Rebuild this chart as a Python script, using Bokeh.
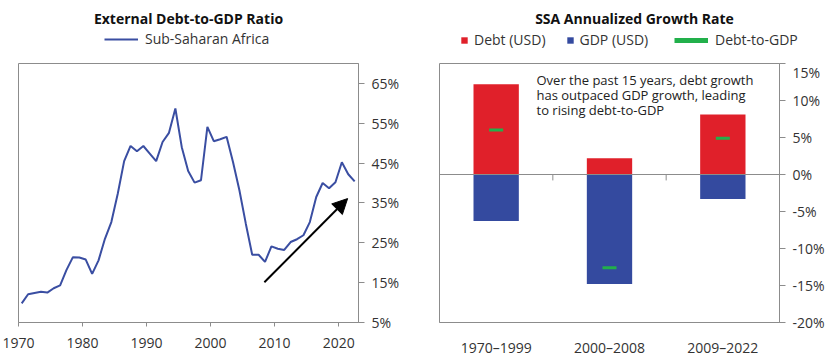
from bokeh.plotting import figure
from bokeh.layouts import row, column
from bokeh.models import (Label, Legend, LegendItem, Arrow, NormalHead, Span,
                          FixedTicker, PrintfTickFormatter, Range1d)
from bokeh.embed import file_html
from bokeh.resources import INLINE

FONT = "Open Sans"
AX = "#8c8c8c"
TXT = "#333333"
BLUE_LINE = "#3A4EA2"
BLUE = "#344A9F"
RED = "#E0202A"
GREEN = "#22B04B"

# ---- left chart data ----
years = list(range(1970, 2023))
ssa_ratio = [9.8, 12.1, 12.4, 12.7, 12.5, 13.6, 14.3, 18.2, 21.4, 21.3,
             20.8, 17.2, 20.6, 26.0, 30.2, 37.3, 45.5, 49.3, 48.0, 49.3,
             47.4, 45.5, 50.3, 52.6, 58.7, 49.0, 43.0, 40.1, 40.7, 54.1,
             50.5, 51.0, 51.6, 45.3, 38.2, 29.8, 22.0, 22.0, 20.2, 24.1,
             23.5, 23.2, 25.2, 25.9, 26.9, 30.2, 36.5, 40.0, 38.7, 40.2,
             45.2, 42.2, 40.4]
year_ticks = [1970, 1980, 1990, 2000, 2010, 2020]
pct_ticks_left = [5, 15, 25, 35, 45, 55, 65]
arrow_from = (2008.4, 15.1)
arrow_to = (2021.4, 36.1)

# ---- right chart data ----
periods = ["1970\u20131999", "2000\u20132008", "2009\u20132022"]
debt_growth = [12.2, 2.2, 8.1]
gdp_growth = [-6.3, -14.8, -3.3]
ratio_growth = [6.0, -12.6, 4.9]
pct_ticks_right = [-20, -15, -10, -5, 0, 5, 10, 15]
note_lines = ["Over the past 15 years, debt growth",
              "has outpaced GDP growth, leading",
              "to rising debt-to-GDP"]

FW, FH = 340, 259
HEAD_H = 62
W1, W2 = 420, 412
BOTTOM = 36


def style(p):
    p.grid.visible = False
    p.outline_line_color = AX
    p.outline_line_width = 1
    p.background_fill_color = "white"
    p.border_fill_color = "white"
    for ax in p.axis:
        ax.axis_line_color = AX
        ax.major_tick_line_color = AX
        ax.minor_tick_line_color = None
        ax.major_tick_in = 0
        ax.major_label_text_font = FONT
        ax.major_label_text_font_size = "14px"
        ax.major_label_text_color = TXT


def header(width):
    # header strip holding the title and the legend; its range is a unit box,
    # the legend-only proxy glyphs sit outside it and are never visible
    h = figure(width=width, height=HEAD_H, x_range=Range1d(0, 1), y_range=Range1d(0, 1),
               x_axis_type=None, y_axis_type=None, output_backend="svg",
               toolbar_location=None, min_border=0)
    h.grid.visible = False
    h.outline_line_color = None
    h.border_fill_color = "white"
    h.background_fill_color = "white"
    return h


def title(h, text, x):
    h.add_layout(Label(x=x, y=HEAD_H - 18, x_units="screen", y_units="screen",
                       text=text, text_align="center", text_baseline="middle",
                       text_font=FONT, text_font_style="bold",
                       text_font_size="14px", text_color="#111111"))


HID = dict(x=[-5], y=[-5])  # legend-only proxies, outside the header's range

common = dict(orientation="horizontal", padding=0, margin=0, border_line_color=None,
              background_fill_alpha=0, label_text_font=FONT,
              label_text_font_size="14px", label_text_color=TXT)

# ================= left =================
h1 = header(W1)
title(h1, "External Debt-to-GDP Ratio", 188)
d_line = h1.line(x=[-5, -4], y=[-5, -5], line_color=BLUE_LINE, line_width=2)
h1.add_layout(Legend(items=[LegendItem(label="Sub-Saharan Africa", renderers=[d_line])],
                     location=(104, HEAD_H - 48), glyph_width=34, glyph_height=14,
                     label_height=14, label_standoff=7, **common))

p1 = figure(frame_width=FW, frame_height=FH,
            x_range=Range1d(1970, 2023.1), y_range=Range1d(5, 70),
            y_axis_location="right", output_backend="svg", toolbar_location=None,
            min_border_left=18, min_border_right=W1 - 18 - FW,
            min_border_top=1, min_border_bottom=BOTTOM)
style(p1)
p1.xaxis.ticker = FixedTicker(ticks=year_ticks)
p1.xaxis.major_tick_out = 4
p1.xaxis.major_label_standoff = 11
p1.yaxis.ticker = FixedTicker(ticks=pct_ticks_left)
p1.yaxis.formatter = PrintfTickFormatter(format="%d%%")
p1.yaxis.major_tick_out = 6
p1.yaxis.major_label_standoff = 7

p1.line(x=[y + 0.5 for y in years], y=ssa_ratio, line_color=BLUE_LINE, line_width=2)
p1.add_layout(Arrow(end=NormalHead(size=15, fill_color="black", line_color="black"),
                    x_start=arrow_from[0], y_start=arrow_from[1],
                    x_end=arrow_to[0], y_end=arrow_to[1],
                    line_color="black", line_width=2))

# ================= right =================
h2 = header(W2)
title(h2, "SSA Annualized Growth Rate", 214)
d_red = h2.scatter(marker="square", size=7, fill_color=RED, line_color=None, **HID)
d_blue = h2.scatter(marker="square", size=7, fill_color=BLUE, line_color=None, **HID)
d_green = h2.line(x=[-5, -4], y=[-5, -5], line_color=GREEN, line_width=5)
h2.add_layout(Legend(items=[LegendItem(label="Debt (USD)", renderers=[d_red]),
                            LegendItem(label="GDP (USD)", renderers=[d_blue])],
                     location=(36, HEAD_H - 49), glyph_width=16, glyph_height=16,
                     label_height=16, label_standoff=2, spacing=16, **common))
h2.add_layout(Legend(items=[LegendItem(label="Debt-to-GDP", renderers=[d_green])],
                     location=(254, HEAD_H - 49), glyph_width=34, glyph_height=16,
                     label_height=16, label_standoff=7, **common))

idx = list(range(len(periods)))
p2 = figure(frame_width=FW, frame_height=FH,
            x_range=Range1d(-0.5, len(periods) - 0.5), y_range=Range1d(-20, 15),
            y_axis_location="right", output_backend="svg", toolbar_location=None,
            min_border_left=19, min_border_right=W2 - 19 - FW,
            min_border_top=1, min_border_bottom=BOTTOM)
style(p2)
p2.xaxis.ticker = FixedTicker(ticks=idx)
p2.xaxis.major_label_overrides = {i: periods[i] for i in idx}
p2.xaxis.major_tick_out = 0
p2.xaxis.major_label_standoff = 15
p2.yaxis.ticker = FixedTicker(ticks=pct_ticks_right)
p2.yaxis.formatter = PrintfTickFormatter(format="%d%%")
p2.yaxis.major_tick_out = 6
p2.yaxis.major_label_standoff = 7

p2.vbar(x=idx, top=debt_growth, bottom=0, width=0.4, fill_color=RED, line_color=None)
p2.vbar(x=idx, top=0, bottom=gdp_growth, width=0.4, fill_color=BLUE, line_color=None)
p2.add_layout(Span(location=0, dimension="width", line_color=AX, line_width=1))
bounds = [i + 0.5 for i in idx[:-1]]
p2.segment(x0=bounds, x1=bounds, y0=[0] * len(bounds), y1=[-0.8] * len(bounds),
           line_color=AX, line_width=1)
p2.rect(x=idx, y=ratio_growth, width=14, height=3, width_units="screen",
        height_units="screen", fill_color=GREEN, line_color=None)

for k, line in enumerate(note_lines):
    p2.add_layout(Label(x=97, y=FH - 16 - 15 * k, x_units="screen", y_units="screen",
                        text=line, text_align="left", text_baseline="middle",
                        text_font=FONT, text_font_size="13px", text_color="#222222"))

layout = column(row(h1, h2), row(p1, p2))
open("out.html", "w").write(file_html(layout, INLINE))
